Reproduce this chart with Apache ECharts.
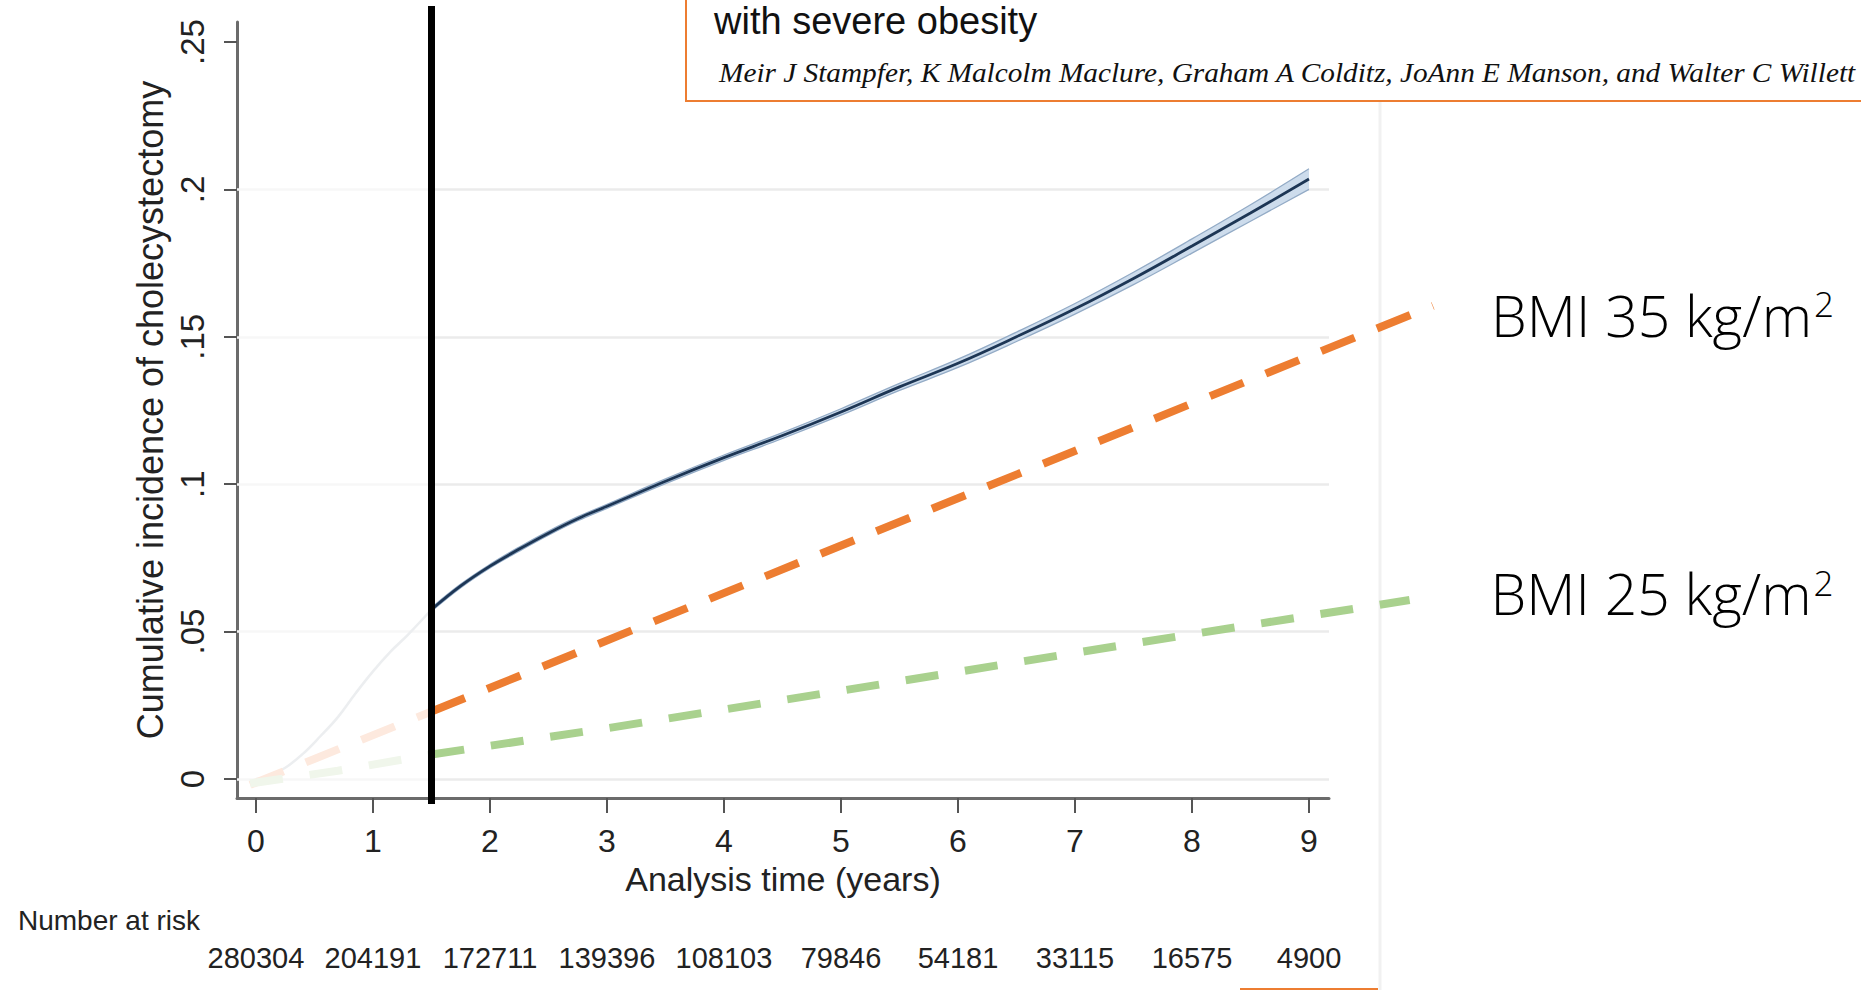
<!DOCTYPE html>
<html>
<head>
<meta charset="utf-8">
<script src="https://cdn.jsdelivr.net/npm/echarts@6/dist/echarts.min.js"></script>
<style>
html,body{margin:0;padding:0;background:#ffffff;}
#chart{width:1861px;height:990px;}
</style>
</head>
<body>
<div id="chart"></div>
<script>
// ---------------- data ----------------
const xTicks = [0, 1, 2, 3, 4, 5, 6, 7, 8, 9];
const yTicks = [0, 0.05, 0.1, 0.15, 0.2, 0.25];
const yTickLabels = ['0', '.05', '.1', '.15', '.2', '.25'];
const gridLineValues = [0, 0.05, 0.1, 0.15, 0.2];
const numberAtRisk = [280304, 204191, 172711, 139396, 108103, 79846, 54181, 33115, 16575, 4900];
const cutoffYear = 1.5;

// cumulative incidence before the cut-off (faded part)
const earlyTime = [0, 0.1, 0.25, 0.4, 0.55, 0.7, 0.85, 1.0, 1.15, 1.3, 1.5];
const earlyIncidence = [0, 0.0007, 0.0038, 0.0085, 0.0145, 0.021, 0.029, 0.0365, 0.0432, 0.049, 0.0575];

// cumulative incidence after the cut-off
const mainTime = [1.5, 1.75, 2, 2.25, 2.5, 2.75, 3, 3.5, 4, 4.5, 5, 5.5, 6, 6.5, 7, 7.5, 8, 8.5, 9];
const mainIncidence = [0.0575, 0.0655, 0.0722, 0.078, 0.0834, 0.0883, 0.0925, 0.101, 0.109, 0.1165, 0.1245, 0.133, 0.141, 0.15, 0.1595, 0.1698, 0.1808, 0.192, 0.2035];
const ciLower = [0.0569, 0.0649, 0.0716, 0.0773, 0.0827, 0.0876, 0.0918, 0.1002, 0.1081, 0.1155, 0.1234, 0.1318, 0.1396, 0.1484, 0.1577, 0.1677, 0.1784, 0.1892, 0.2];
const ciUpper = [0.0581, 0.0661, 0.0728, 0.0787, 0.0841, 0.089, 0.0932, 0.1018, 0.1099, 0.1175, 0.1256, 0.1342, 0.1424, 0.1516, 0.1613, 0.1719, 0.1832, 0.1948, 0.207];

// annotation lines (expected incidence)
const bmi35EarlyTime = [-0.05, 1.5];
const bmi35EarlyRisk = [-0.002, 0.0229];
const bmi35Time = [1.5, 10.06];
const bmi35Risk = [0.0229, 0.1605];
const bmi25EarlyTime = [-0.05, 0.7, 1.5];
const bmi25EarlyRisk = [-0.0015, 0.0028, 0.0083];
const bmi25Time = [1.5, 3, 5.4, 7.5, 9.86];
const bmi25Risk = [0.0083, 0.0172, 0.0325, 0.046, 0.0607];

const bmi35Label = 'BMI 35 kg/m';
const bmi25Label = 'BMI 25 kg/m';

// ---------------- layout (pixel scale shared by both grids) ----------------
const PX0 = 256, PXU = 117;     // x pixel of year 0, px per year
const PY0 = 779, PYU = 2948;    // y pixel of value 0, px per unit
const xv = px => (px - PX0) / PXU;
const yv = py => (PY0 - py) / PYU;

const G0 = {left: 237, right: 1329, top: 22, bottom: 798};
const G1 = {left: 237, right: 1470, top: 6, bottom: 804};

const pairs = (xs, ys) => xs.map((x, i) => [x, ys[i]]);
const SANS = '"Liberation Sans", Arial, Helvetica, sans-serif';
const LIGHT = '"Open Sans", "Noto Sans", sans-serif';

const x0min = xv(G0.left), x0max = xv(G0.right);
const gridSegments = [];
gridLineValues.forEach(v => {
  gridSegments.push([{coord: [x0min, v], lineStyle: {color: '#f7f7f7'}}, {coord: [cutoffYear, v]}]);
  gridSegments.push([{coord: [cutoffYear, v], lineStyle: {color: '#ebebeb'}}, {coord: [x0max, v]}]);
});

const chart = echarts.init(document.getElementById('chart'), null, {renderer: 'svg'});

const labelRich = {
  a: {fontFamily: LIGHT, fontWeight: 300, fontSize: 57, color: '#000'},
  s: {fontFamily: LIGHT, fontWeight: 300, fontSize: 35, color: '#000', verticalAlign: 'top', padding: [0, 0, 0, 2]}
};

const option = {
  animation: false,
  backgroundColor: '#ffffff',
  title: [{
    text: 'Number at risk', left: 18, top: 906, padding: 0,
    textStyle: {fontFamily: SANS, fontSize: 28, fontWeight: 'normal', color: '#222'}
  }],
  grid: [
    {left: G0.left, top: G0.top, width: G0.right - G0.left, height: G0.bottom - G0.top},
    {left: G1.left, top: G1.top, width: G1.right - G1.left, height: G1.bottom - G1.top}
  ],
  xAxis: [
    {
      type: 'value', gridIndex: 0, min: x0min, max: x0max,
      axisLine: {show: true, onZero: false, lineStyle: {color: '#6b6b6b', width: 3}},
      axisTick: {show: true, customValues: xTicks, length: 15, lineStyle: {color: '#555', width: 2}},
      axisLabel: {customValues: xTicks, margin: 27, fontFamily: SANS, fontSize: 32, color: '#222',
        formatter: v => String(v)},
      splitLine: {show: false},
      name: 'Analysis time (years)', nameLocation: 'middle', nameGap: 62,
      nameTextStyle: {fontFamily: SANS, fontSize: 34, color: '#222'}
    },
    {
      type: 'value', gridIndex: 1, min: xv(G1.left), max: xv(G1.right), show: false
    },
    {
      type: 'value', gridIndex: 0, min: x0min, max: x0max, position: 'bottom',
      axisLine: {show: false}, axisTick: {show: false}, splitLine: {show: false},
      axisLabel: {customValues: xTicks, margin: 145, fontFamily: SANS, fontSize: 29, color: '#222',
        formatter: v => String(numberAtRisk[xTicks.indexOf(Math.round(v))])}
    }
  ],
  yAxis: [
    {
      type: 'value', gridIndex: 0, min: yv(G0.bottom), max: yv(G0.top),
      axisLine: {show: true, onZero: false, lineStyle: {color: '#6b6b6b', width: 3}},
      axisTick: {show: true, customValues: yTicks, length: 13, lineStyle: {color: '#555', width: 2}},
      axisLabel: {customValues: yTicks, rotate: 90, margin: 28, fontFamily: SANS, fontSize: 33, color: '#222',
        formatter: v => { const i = yTicks.findIndex(t => Math.abs(t - v) < 1e-6); return i >= 0 ? yTickLabels[i] : ''; }},
      splitLine: {show: false},
      name: 'Cumulative incidence of cholecystectomy', nameLocation: 'middle', nameRotate: 90, nameGap: 66,
      nameTextStyle: {fontFamily: SANS, fontSize: 36, color: '#222'}
    },
    {
      type: 'value', gridIndex: 1, min: yv(G1.bottom), max: yv(G1.top), show: false
    }
  ],
  series: [
    { // grid lines
      type: 'line', xAxisIndex: 0, yAxisIndex: 0, data: [], silent: true,
      markLine: {z: 1, silent: true, symbol: 'none', label: {show: false},
        lineStyle: {type: 'solid', width: 2.5}, data: gridSegments}
    },
    { // faded early curve
      type: 'line', xAxisIndex: 0, yAxisIndex: 0, data: pairs(earlyTime, earlyIncidence),
      showSymbol: false, smooth: 0.4, z: 2, lineStyle: {color: '#eceef0', width: 2.5}
    },
    { // CI band fill
      type: 'custom', xAxisIndex: 0, yAxisIndex: 0, z: 2, silent: true,
      data: mainTime.map((t, i) => [t, ciLower[i], ciUpper[i]]),
      encode: {x: 0, y: [1, 2]},
      renderItem: (params, api) => {
        if (params.dataIndex !== 0) return null;
        const up = mainTime.map((t, i) => api.coord([t, ciUpper[i]]));
        const lo = mainTime.map((t, i) => api.coord([t, ciLower[i]])).reverse();
        return {type: 'polygon', shape: {points: up.concat(lo)}, style: {fill: '#cddcec'}};
      }
    },
    { // CI lower edge
      type: 'line', xAxisIndex: 0, yAxisIndex: 0, data: pairs(mainTime, ciLower),
      showSymbol: false, smooth: 0.4, z: 2, lineStyle: {width: 1.3, color: '#93abc6'}
    },
    { // CI upper edge
      type: 'line', xAxisIndex: 0, yAxisIndex: 0, data: pairs(mainTime, ciUpper),
      showSymbol: false, smooth: 0.4, z: 2, lineStyle: {width: 1.3, color: '#93abc6'}
    },
    { // main curve
      type: 'line', xAxisIndex: 0, yAxisIndex: 0, data: pairs(mainTime, mainIncidence),
      showSymbol: false, smooth: 0.4, z: 3, lineStyle: {color: '#1d3655', width: 2.8}
    },
    { // BMI 35 early (faded)
      type: 'line', xAxisIndex: 1, yAxisIndex: 1, data: pairs(bmi35EarlyTime, bmi35EarlyRisk),
      showSymbol: false, z: 4, lineStyle: {color: '#fde9de', width: 8, type: [36, 24], cap: 'butt'}
    },
    { // BMI 25 early (faded)
      type: 'line', xAxisIndex: 1, yAxisIndex: 1, data: pairs(bmi25EarlyTime, bmi25EarlyRisk),
      showSymbol: false, z: 4, lineStyle: {color: '#f0f6eb', width: 8, type: [33, 27], cap: 'butt'}
    },
    { // BMI 35
      type: 'line', xAxisIndex: 1, yAxisIndex: 1, data: pairs(bmi35Time, bmi35Risk),
      showSymbol: false, z: 4, lineStyle: {color: '#ED7D31', width: 8, type: [36, 24], cap: 'butt'},
      endLabel: {show: true, formatter: '{a|' + bmi35Label + '}{s|2}', offset: [50, 9], rich: labelRich}
    },
    { // BMI 25
      type: 'line', xAxisIndex: 1, yAxisIndex: 1, data: pairs(bmi25Time, bmi25Risk),
      showSymbol: false, z: 4, lineStyle: {color: '#A9D18E', width: 8, type: [33, 27], cap: 'butt'},
      endLabel: {show: true, formatter: '{a|' + bmi25Label + '}{s|2}', offset: [73, -7], rich: labelRich}
    },
    { // cut-off line
      type: 'line', xAxisIndex: 1, yAxisIndex: 1, data: [], silent: true,
      markLine: {z: 10, silent: true, symbol: 'none', label: {show: false},
        lineStyle: {color: '#000', width: 7, type: 'solid'}, data: [{xAxis: cutoffYear}]}
    }
  ],
  graphic: [
    {type: 'rect', z: 20, shape: {x: 686, y: -10, width: 1300, height: 111},
     style: {fill: '#ffffff', stroke: '#ED7D31', lineWidth: 2}},
    {type: 'text', z: 21, style: {text: 'with severe obesity', x: 714, y: 21, fontFamily: SANS, fontSize: 38,
      fill: '#111', align: 'left', verticalAlign: 'middle'}},
    {type: 'text', z: 21, x: 719, scaleX: 1.085, style: {text: 'Meir J Stampfer, K Malcolm Maclure, Graham A Colditz, JoAnn E Manson, and Walter C Willett',
      x: 0, y: 86, fontFamily: '"Liberation Serif", "Times New Roman", serif', fontStyle: 'italic', fontSize: 27,
      fill: '#111', align: 'left', verticalAlign: 'bottom'}},
    {type: 'line', z: 0, shape: {x1: 1380, y1: 101, x2: 1380, y2: 990}, style: {stroke: '#f1f1f1', lineWidth: 3}},
    {type: 'line', z: 21, shape: {x1: 1240, y1: 989, x2: 1378, y2: 989}, style: {stroke: '#ED7D31', lineWidth: 2}}
  ]
};
chart.setOption(option);
</script>
</body>
</html>
